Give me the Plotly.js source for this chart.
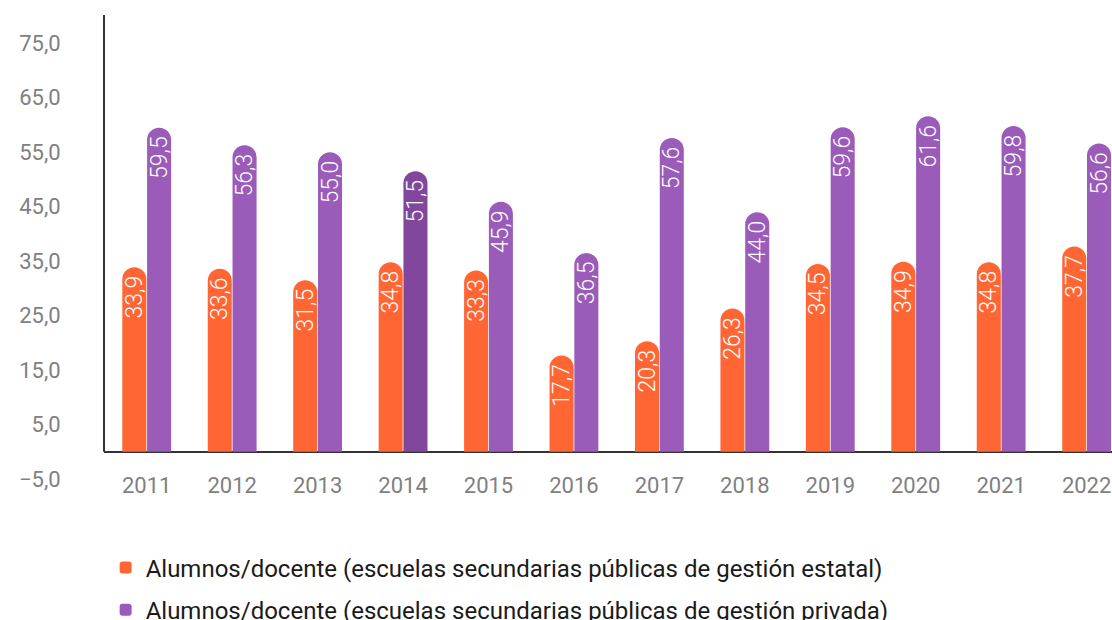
<!DOCTYPE html>
<html>
<head>
<meta charset="utf-8">
<script src="https://cdn.plot.ly/plotly-3.0.1.min.js"></script>
<style>
html, body { margin: 0; padding: 0; overflow: hidden; background: #fff; }
#chart { width: 1112px; height: 620px; }
</style>
</head>
<body>
<div id="chart"></div>
<script>
const years = ['2011','2012','2013','2014','2015','2016','2017','2018','2019','2020','2021','2022'];
const estatal = [33.9, 33.6, 31.5, 34.8, 33.3, 17.7, 20.3, 26.3, 34.5, 34.9, 34.8, 37.7];
const privada = [59.5, 56.3, 55.0, 51.5, 45.9, 36.5, 57.6, 44.0, 59.6, 61.6, 59.8, 56.6];
const nameEstatal = 'Alumnos/docente (escuelas secundarias públicas de gestión estatal)';
const namePrivada = 'Alumnos/docente (escuelas secundarias públicas de gestión privada)';
const highlightYear = '2014';

const ORANGE = '#ff6633';
const PURPLE = '#9b5bb8';
const PURPLE_DARK = '#81479c';
const FONT = 'Roboto, "Noto Sans", sans-serif';

const privColors = years.map(y => y === highlightYear ? PURPLE_DARK : PURPLE);

// visible rounded bars (no text)
function barTrace(name, values, color, group) {
  return {
    type: 'bar', x: years, y: values, name: name,
    offsetgroup: group, legendgroup: group,
    marker: { color: color, cornerradius: '50%' },
    textposition: 'none', hoverinfo: 'x+y', cliponaxis: true
  };
}
// transparent square bars carrying the value labels
function labelTrace(values, group) {
  return {
    type: 'bar', x: years, y: values,
    offsetgroup: group, legendgroup: group, showlegend: false,
    marker: { color: 'rgba(0,0,0,0)' },
    texttemplate: '%{y:.1f}\u00a0',
    textposition: 'inside', insidetextanchor: 'end',
    textangle: -90, constraintext: 'none',
    textfont: { family: FONT, size: 23, weight: 300, color: '#ffffff' },
    hoverinfo: 'skip', cliponaxis: true
  };
}

const traces = [
  barTrace(nameEstatal, estatal, ORANGE, 'a'),
  barTrace(namePrivada, privada, privColors, 'b'),
  labelTrace(estatal, 'a'),
  labelTrace(privada, 'b')
];

const layout = {
  width: 1112, height: 620,
  margin: { l: 104, r: 0, t: 15, b: 141, pad: 0, autoexpand: false },
  paper_bgcolor: '#ffffff', plot_bgcolor: '#ffffff',
  separators: ',.',
  font: { family: FONT },
  barmode: 'group',
  bargap: 0.42,
  bargroupgap: 0.03,
  showlegend: true,
  legend: {
    orientation: 'v',
    xref: 'container', yref: 'container',
    x: 0.095, y: 0.05, xanchor: 'left', yanchor: 'middle',
    font: { family: FONT, size: 24, color: '#1a1a1a' },
    traceorder: 'grouped',
    tracegroupgap: 8,
    bgcolor: 'rgba(0,0,0,0)'
  },
  xaxis: {
    type: 'category',
    range: [-0.5, 11.297],
    anchor: 'free', position: 0.019,
    showline: false, showgrid: false, zeroline: false,
    ticks: '',
    tickangle: 0,
    tickfont: { family: FONT, size: 22, color: '#808080' },
    fixedrange: true
  },
  yaxis: {
    range: [-5, 80.2],
    tick0: -5, dtick: 10,
    tickformat: '.1f',
    showgrid: false, showline: false,
    zeroline: true, zerolinecolor: '#333333', zerolinewidth: 2,
    ticks: 'outside', ticklen: 38, tickcolor: 'rgba(0,0,0,0)',
    tickfont: { family: FONT, size: 22, color: '#808080' },
    fixedrange: true
  },
  shapes: [{
    type: 'line', xref: 'paper', yref: 'y',
    x0: 0, x1: 0, y0: 0, y1: 80.2,
    line: { color: '#333333', width: 2 }
  }]
};

Plotly.newPlot('chart', traces, layout, { staticPlot: true, displayModeBar: false });
</script>
</body>
</html>
